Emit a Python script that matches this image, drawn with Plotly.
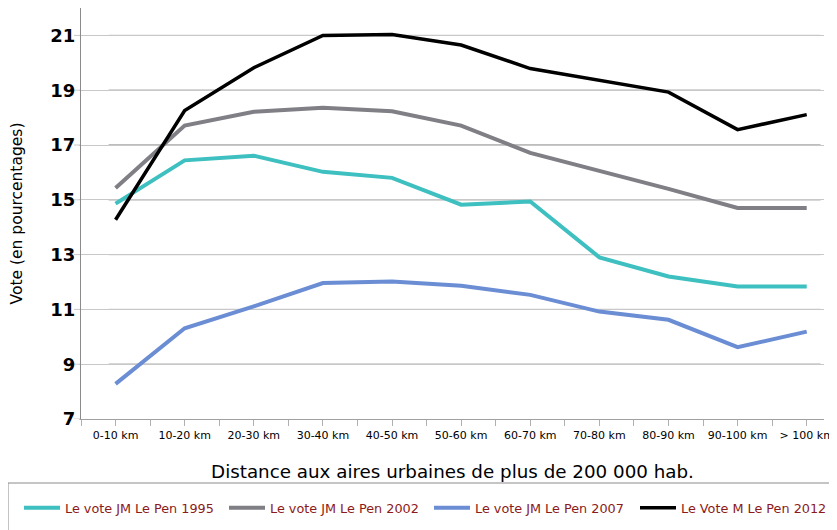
import plotly.graph_objects as go

categories = ["0-10 km", "10-20 km", "20-30 km", "30-40 km", "40-50 km", "50-60 km",
              "60-70 km", "70-80 km", "80-90 km", "90-100 km", "> 100 km"]
vote_1995 = [14.86, 16.44, 16.61, 16.02, 15.80, 14.82, 14.94, 12.90, 12.20, 11.84, 11.84]
vote_2002 = [15.43, 17.71, 18.21, 18.36, 18.23, 17.71, 16.71, 16.05, 15.40, 14.70, 14.70]
vote_2007 = [8.28, 10.31, 11.11, 11.96, 12.02, 11.86, 11.53, 10.92, 10.62, 9.62, 10.19]
vote_2012 = [14.27, 18.26, 19.82, 21.00, 21.03, 20.65, 19.79, 19.37, 18.93, 17.56, 18.11]
y_ticks = [7, 9, 11, 13, 15, 17, 19, 21]

series = [
    ("Le vote JM Le Pen 1995", vote_1995, "#3EBFC0", 4),
    ("Le vote JM Le Pen 2002", vote_2002, "#7F7F85", 4),
    ("Le vote JM Le Pen 2007", vote_2007, "#6B8DD4", 4),
    ("Le Vote M Le Pen 2012", vote_2012, "#000000", 3.5),
]
legend_x_px = [11, 216, 421, 627]

# page body has an 8px margin: figure coords = screen coords - 8
W, H = 829, 522
L, R, T, B = 73, 13, 0, 111
PW, PH = W - L - R, H - T - B

xs = list(range(len(categories)))
fig = go.Figure()
legend_ids = ["legend", "legend2", "legend3", "legend4"]
for (name, vals, color, w), lid in zip(series, legend_ids):
    fig.add_trace(go.Scatter(x=xs, y=vals, mode="lines", name=name, legend=lid,
                             line=dict(color=color, width=w)))

shapes = []
for v in y_ticks[1:]:
    shapes.append(dict(type="line", xref="x", yref="y", x0=-0.1, x1=10.2, y0=v, y1=v,
                       line=dict(color="#7a7a7a", width=1), layer="below"))
for v in y_ticks:
    shapes.append(dict(type="line", xref="paper", yref="y", x0=-7 / PW, x1=0, y0=v, y1=v,
                       line=dict(color="#c8c8c8", width=1), layer="below"))
shapes.append(dict(type="rect", xref="paper", yref="paper",
                   x0=(0 - L) / PW, x1=(W - 1 - L) / PW,
                   y0=(PH - 540) / PH, y1=(PH - 475) / PH,
                   line=dict(color="#8a8a8a", width=1), fillcolor="rgba(0,0,0,0)"))

legend_layout = {}
for lid, lx in zip(legend_ids, legend_x_px):
    legend_layout[lid] = dict(orientation="h", xref="container", yref="container",
                              x=lx / W, xanchor="left",
                              y=1 - 500 / H, yanchor="middle", itemwidth=36,
                              font=dict(family="DejaVu Sans", size=12.8, color="#8B1A1A"),
                              bgcolor="rgba(0,0,0,0)")

fig.update_layout(
    width=W, height=H,
    margin=dict(l=L, r=R, t=T, b=B, autoexpand=False),
    paper_bgcolor="white", plot_bgcolor="white",
    font=dict(family="DejaVu Sans", color="#000"),
    showlegend=True,
    shapes=shapes,
    xaxis=dict(range=[-0.5, 10.25], tickmode="array", tickvals=xs, ticktext=categories,
               automargin=False,
               showgrid=False, zeroline=False, showline=True, linecolor="#a0a0a0", linewidth=1,
               ticks="outside", ticklen=6, tickcolor="#b0b0b0",
               minor=dict(ticks="outside", ticklen=6, tickcolor="#b0b0b0",
                          tick0=-0.5, dtick=1, showgrid=False),
               tickfont=dict(family="DejaVu Sans", size=11, color="#000"),
               title=dict(text="Distance aux aires urbaines de plus de 200 000 hab.",
                          font=dict(family="DejaVu Sans", size=18.3, color="#000"),
                          standoff=23)),
    yaxis=dict(range=[7, 22], tickmode="array", tickvals=y_ticks, automargin=False,
               showgrid=True, gridcolor="#c8c8c8", gridwidth=1, zeroline=False,
               showline=True, linecolor="#8a8a8a", linewidth=1,
               ticks="outside", ticklen=1, tickcolor="#c8c8c8",
               tickfont=dict(family="DejaVu Sans", size=18, color="#000", weight="bold"),
               title=dict(text="Vote (en pourcentages)",
                          font=dict(family="DejaVu Sans", size=15.5, color="#000"),
                          standoff=24)),
    **legend_layout,
)
fig.write_html("out.html")
